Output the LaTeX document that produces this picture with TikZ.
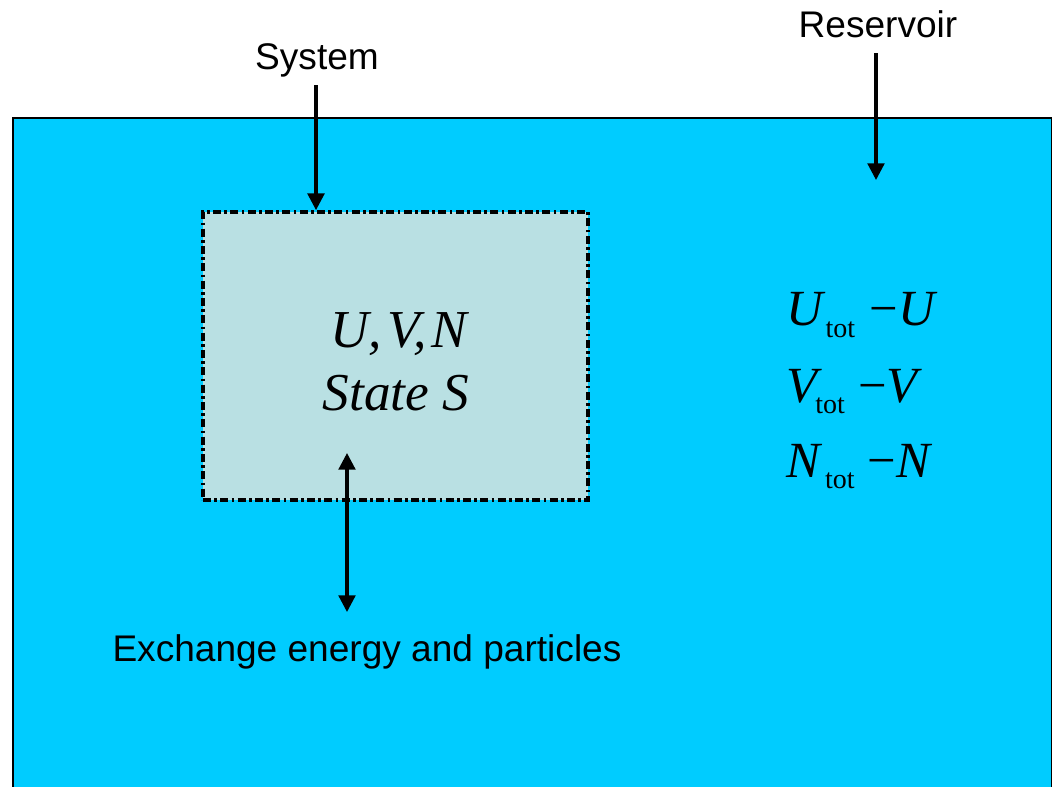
\documentclass[tikz,border=0pt]{standalone}
\usepackage{fontspec}
\setmainfont{Liberation Serif}
\setsansfont{Liberation Sans}
\usetikzlibrary{arrows.meta}
\definecolor{resc}{HTML}{00CCFF}
\definecolor{sysc}{HTML}{B9E0E3}
\newcommand{\mminus}{\char"2212}
\newcommand{\subtot}[1]{\raisebox{#1}{\fontsize{21}{24}\selectfont tot}}
\begin{document}
\begin{tikzpicture}[x=0.75pt,y=-0.75pt,
  lbl/.style={font=\sffamily\fontsize{27.8}{33}\selectfont, inner sep=0, anchor=base},
  bigmath/.style={font=\itshape\fontsize{40}{48}\selectfont, inner sep=0, anchor=base},
  rmath/.style={font=\fontsize{38}{45}\selectfont, inner sep=0, anchor=base west},
  arr/.style={line width=2.4pt, -{Triangle[length=12.5pt,width=12.5pt]}},
  darr/.style={line width=2.4pt, {Triangle[length=12.5pt,width=12.5pt]}-{Triangle[length=12.5pt,width=12.5pt]}}]
\path[use as bounding box] (0,0) rectangle (1052,786);
\clip (0,0) rectangle (1052,786);
\node (res) [draw, line width=1.6pt, fill=resc, anchor=north west, minimum width=779.25pt, minimum height=525pt, inner sep=0] at (12,117) {};
\node (sys) [draw, line width=2.8pt, fill=sysc, dash pattern=on 6pt off 2.5pt on 2pt off 2.5pt, minimum width=288.75pt, minimum height=216pt, inner sep=0] at (395.5,356) {};
\node (syslbl) [lbl] at (317,69) {System};
\node (reslbl) [lbl] at (878,37) {Reservoir};
\node (exlbl) [lbl] at (367,661) {Exchange energy and particles};
\node (uvn) [bigmath] at (399,347) {U,\kern4pt V,\kern4pt N};
\node (state) [bigmath] at (396,410) {State S};
\node (ru) [rmath] at (786,325) {\textit{U}\subtot{-9pt}\hspace{11pt}\mminus\textit{U}};
\node (rv) [rmath] at (786,402) {\textit{V}\kern-5pt\subtot{-8.5pt}\hspace{10pt}\mminus\textit{V}};
\node (rn) [rmath] at (786,477) {\textit{N}\kern2pt\subtot{-8.5pt}\hspace{10pt}\mminus\textit{N}};
\coordinate (s1) at (316,85);
\draw[arr] (s1) -- (s1 |- sys.north);
\coordinate (r1) at (876,53);
\coordinate (r2) at (876,180);
\draw[arr] (r1) -- (r2);
\coordinate (e1) at (347,453);
\coordinate (e2) at (347,612);
\draw[darr] (e1) -- (e2);
\end{tikzpicture}
\end{document}
